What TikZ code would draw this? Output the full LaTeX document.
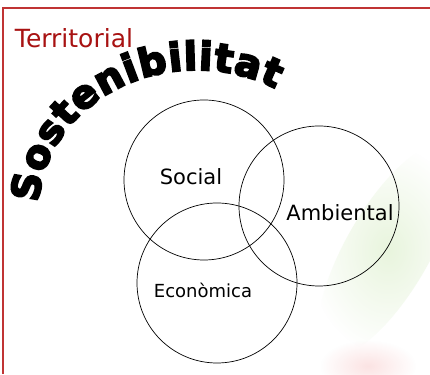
\documentclass[tikz,border=0pt]{standalone}
\usepackage{fontspec}
\setmainfont{DejaVu Sans}
\newfontfamily\heavyfont{DejaVu Sans}[UprightFont={* Bold}, FakeBold=5]
\usetikzlibrary{decorations.text,fadings}
\definecolor{framered}{RGB}{192,52,52}
\definecolor{titlered}{RGB}{168,18,18}
\definecolor{bggreen}{RGB}{205,232,180}
\definecolor{bgred}{RGB}{245,175,175}
\tikzfading[name=softblob, inner color=transparent!0, outer color=transparent!100]
\tikzset{
  venn/.style={circle, draw=black, line width=0.7pt, minimum size=160pt, inner sep=0pt},
  lab/.style={inner sep=0pt, text=black},
  blob/.style={path fading=softblob},
}
\begin{document}
\begin{tikzpicture}[x=1pt,y=1pt]
\useasboundingbox (0,0) rectangle (430,374);
\fill[white] (0,0) rectangle (430,374);
% faint background picture
\fill[bggreen, blob, opacity=0.45, rotate around={60:(388,124)}] (388,124) ellipse [x radius=120, y radius=42];
\fill[bgred, blob, opacity=0.35] (368,8) ellipse [x radius=48, y radius=26];
% frame
\draw[framered, line width=1.2pt] (3,0) -- (3,366) -- (430,366);
% title
\node[text=titlered, font=\fontsize{25}{25}\selectfont, inner sep=0pt] (title) at (74,336) {Territorial};
% arc text
\coordinate (arcc) at (196.5,164);
\path[decorate, decoration={text along path, text align=fit to path,
  text={|\heavyfont\fontsize{39}{39}\selectfont|Sostenibilitat}}]
  (arcc) ++(177:158 and 140) arc[start angle=177, end angle=60, x radius=158, y radius=140];
% circles
\node[venn] (soc) at (204,194) {};
\node[venn] (amb) at (319,168) {};
\node[venn] (eco) at (217,91) {};
% labels
\node[lab, font=\fontsize{21}{21}\selectfont] (tsoc) at (191,197) {Social};
\node[lab, font=\fontsize{21}{21}\selectfont] (tamb) at (340,161) {Ambiental};
\node[lab, font=\fontsize{18}{18}\selectfont] (teco) at (203,84) {Econòmica};
\end{tikzpicture}
\end{document}
